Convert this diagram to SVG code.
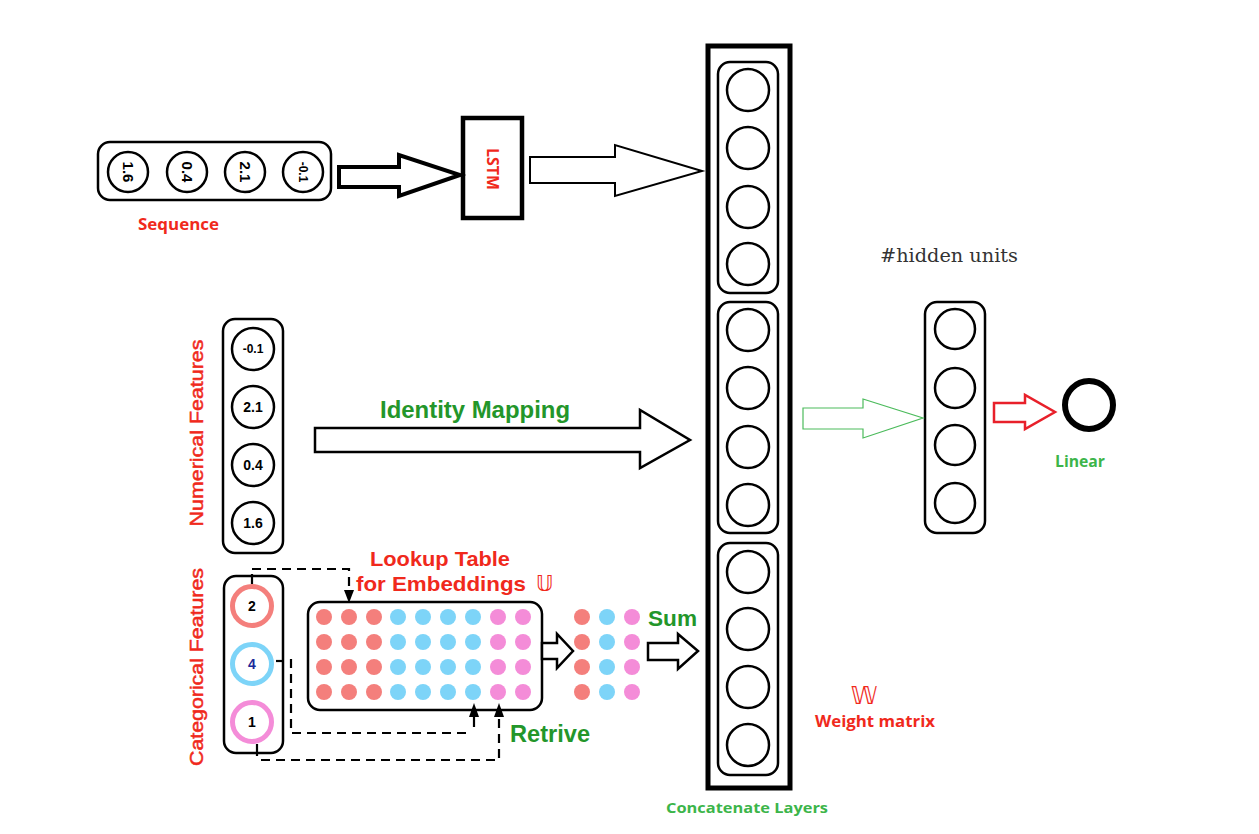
<svg xmlns="http://www.w3.org/2000/svg" width="1259" height="834" viewBox="0 0 1259 834">
<defs>
<style>
.bg{fill:#fff}
.box{fill:#fff;stroke:#000;stroke-width:2.5}
.unit{fill:#fff;stroke:#000;stroke-width:2.5}
.num{font-family:"Liberation Sans",Arial,sans-serif;font-weight:bold;font-size:14px;fill:#000;text-anchor:middle;dominant-baseline:central}
.red{font-family:"Liberation Sans",Arial,sans-serif;font-weight:bold;fill:#f0291c}
.seg{font-family:"Open Sans","Liberation Sans",sans-serif;font-weight:bold}
.grn{font-family:"Liberation Sans",Arial,sans-serif;font-weight:bold;fill:#23962a}
.lgrn{fill:#3cb54a}
.barrow{fill:#fff;stroke:#000;stroke-linejoin:miter}
.dash{fill:none;stroke:#000;stroke-width:2.2;stroke-dasharray:9 6}
.tick{stroke:#000;stroke-width:2.2}
.ds{font-family:"DejaVu Sans","Noto Sans",sans-serif;font-weight:normal;fill:#f0291c}
.s{fill:#f47f7c}.b{fill:#7dd4f8}.p{fill:#f48cd8}
</style>
</defs>
<rect class="bg" x="0" y="0" width="1259" height="834"/>

<g id="sequence">
<rect class="box" x="98" y="142" width="233" height="58" rx="12"/>
<circle class="unit" cx="128" cy="172" r="20"/>
<circle class="unit" cx="187" cy="172" r="20"/>
<circle class="unit" cx="245" cy="172" r="20"/>
<circle class="unit" cx="303" cy="172" r="20"/>
<text class="num" style="font-size:15px" transform="translate(128,172) rotate(90)">1.6</text>
<text class="num" style="font-size:15px" transform="translate(187,172) rotate(90)">0.4</text>
<text class="num" style="font-size:15px" transform="translate(245,172) rotate(90)">2.1</text>
<text class="num" style="font-size:12px" transform="translate(303,172) rotate(90)">-0.1</text>
<text class="seg" fill="#f0291c" x="138" y="230" font-size="15.5" textLength="81" lengthAdjust="spacingAndGlyphs">Sequence</text>
</g>

<g id="lstm">
<rect x="463" y="118" width="59" height="100" fill="#fff" stroke="#000" stroke-width="4.5"/>
<text class="seg" fill="#f0291c" font-size="16" text-anchor="middle" dominant-baseline="central" transform="translate(493,169) rotate(90)" textLength="42" lengthAdjust="spacingAndGlyphs">LSTM</text>
</g>

<g id="numerical">
<rect class="box" x="223" y="319" width="60" height="234" rx="12"/>
<circle class="unit" cx="253" cy="349" r="21"/>
<circle class="unit" cx="253" cy="407" r="21"/>
<circle class="unit" cx="253" cy="465" r="21"/>
<circle class="unit" cx="253" cy="523" r="21"/>
<text class="num" x="253" y="349" style="font-size:12px">-0.1</text>
<text class="num" x="253" y="407">2.1</text>
<text class="num" x="253" y="465">0.4</text>
<text class="num" x="253" y="523">1.6</text>
<text class="red" font-size="18" text-anchor="middle" dominant-baseline="central" transform="translate(197,433) rotate(-90)" textLength="187" lengthAdjust="spacingAndGlyphs" style="font-weight:normal;stroke:#f0291c;stroke-width:0.5">Numerical Features</text>
</g>

<g id="categorical">
<rect class="box" x="224" y="576" width="59" height="177" rx="12"/>
<circle cx="252" cy="606" r="19.5" fill="#fff" stroke="#f47f7c" stroke-width="5"/>
<circle cx="252" cy="664" r="19.5" fill="#fff" stroke="#7dd4f8" stroke-width="5"/>
<circle cx="252" cy="722" r="19.5" fill="#fff" stroke="#f48cd8" stroke-width="5"/>
<text class="num" x="252" y="606">2</text>
<text class="num" x="252" y="664" style="fill:#1a2a9a">4</text>
<text class="num" x="252" y="722">1</text>
<text class="red" font-size="18" text-anchor="middle" dominant-baseline="central" transform="translate(197,667) rotate(-90)" textLength="198" lengthAdjust="spacingAndGlyphs" style="font-weight:normal;stroke:#f0291c;stroke-width:0.5">Categorical Features</text>
</g>

<g id="lookup_table">
<rect class="box" x="308" y="602" width="234" height="108" rx="12"/>
<g>
<circle class="s" cx="324" cy="617" r="8"/><circle class="s" cx="349" cy="617" r="8"/><circle class="s" cx="374" cy="617" r="8"/>
<circle class="b" cx="398" cy="617" r="8"/><circle class="b" cx="423" cy="617" r="8"/><circle class="b" cx="448" cy="617" r="8"/><circle class="b" cx="473" cy="617" r="8"/>
<circle class="p" cx="498" cy="617" r="8"/><circle class="p" cx="523" cy="617" r="8"/>
<circle class="s" cx="324" cy="642" r="8"/><circle class="s" cx="349" cy="642" r="8"/><circle class="s" cx="374" cy="642" r="8"/>
<circle class="b" cx="398" cy="642" r="8"/><circle class="b" cx="423" cy="642" r="8"/><circle class="b" cx="448" cy="642" r="8"/><circle class="b" cx="473" cy="642" r="8"/>
<circle class="p" cx="498" cy="642" r="8"/><circle class="p" cx="523" cy="642" r="8"/>
<circle class="s" cx="324" cy="667" r="8"/><circle class="s" cx="349" cy="667" r="8"/><circle class="s" cx="374" cy="667" r="8"/>
<circle class="b" cx="398" cy="667" r="8"/><circle class="b" cx="423" cy="667" r="8"/><circle class="b" cx="448" cy="667" r="8"/><circle class="b" cx="473" cy="667" r="8"/>
<circle class="p" cx="498" cy="667" r="8"/><circle class="p" cx="523" cy="667" r="8"/>
<circle class="s" cx="324" cy="692" r="8"/><circle class="s" cx="349" cy="692" r="8"/><circle class="s" cx="374" cy="692" r="8"/>
<circle class="b" cx="398" cy="692" r="8"/><circle class="b" cx="423" cy="692" r="8"/><circle class="b" cx="448" cy="692" r="8"/><circle class="b" cx="473" cy="692" r="8"/>
<circle class="p" cx="498" cy="692" r="8"/><circle class="p" cx="523" cy="692" r="8"/>
</g>
<text class="red" x="370" y="566" font-size="21" textLength="140" lengthAdjust="spacingAndGlyphs">Lookup Table</text>
<text class="red" x="356" y="591" font-size="21"><tspan textLength="170" lengthAdjust="spacingAndGlyphs">for Embeddings</tspan><tspan class="ds" x="536" font-size="21">𝕌</tspan></text>
</g>

<g id="summed_embeddings">
<circle class="s" cx="582" cy="617" r="8"/><circle class="b" cx="607" cy="617" r="8"/><circle class="p" cx="632" cy="617" r="8"/>
<circle class="s" cx="582" cy="642" r="8"/><circle class="b" cx="607" cy="642" r="8"/><circle class="p" cx="632" cy="642" r="8"/>
<circle class="s" cx="582" cy="667" r="8"/><circle class="b" cx="607" cy="667" r="8"/><circle class="p" cx="632" cy="667" r="8"/>
<circle class="s" cx="582" cy="692" r="8"/><circle class="b" cx="607" cy="692" r="8"/><circle class="p" cx="632" cy="692" r="8"/>
</g>

<g id="concatenate">
<rect x="708" y="46" width="82" height="742" fill="#fff" stroke="#000" stroke-width="5"/>
<rect class="box" x="718" y="62" width="60" height="231" rx="12"/>
<rect class="box" x="718" y="302" width="60" height="231" rx="12"/>
<rect class="box" x="718" y="543" width="60" height="232" rx="12"/>
<circle class="unit" cx="748" cy="90" r="21"/>
<circle class="unit" cx="748" cy="148" r="21"/>
<circle class="unit" cx="748" cy="207" r="21"/>
<circle class="unit" cx="748" cy="264" r="21"/>
<circle class="unit" cx="748" cy="330" r="21"/>
<circle class="unit" cx="748" cy="388" r="21"/>
<circle class="unit" cx="748" cy="447" r="21"/>
<circle class="unit" cx="748" cy="505" r="21"/>
<circle class="unit" cx="748" cy="572" r="21"/>
<circle class="unit" cx="748" cy="629" r="21"/>
<circle class="unit" cx="748" cy="687" r="21"/>
<circle class="unit" cx="748" cy="745" r="21"/>
<text class="seg lgrn" x="666" y="813" font-size="15" textLength="162" lengthAdjust="spacingAndGlyphs">Concatenate Layers</text>
</g>

<g id="weight_matrix">
<text class="ds" x="864" y="704" font-size="24" text-anchor="middle">𝕎</text>
<text class="seg" fill="#f0291c" x="815" y="727" font-size="15.5" textLength="120" lengthAdjust="spacingAndGlyphs">Weight matrix</text>
</g>

<g id="hidden_layer">
<text x="880" y="262" font-family="'DejaVu Serif','Liberation Serif',serif" font-size="18" fill="#333" textLength="138" lengthAdjust="spacingAndGlyphs">#hidden units</text>
<rect class="box" x="925" y="302" width="60" height="231" rx="12"/>
<circle class="unit" cx="955" cy="329" r="20"/>
<circle class="unit" cx="955" cy="388" r="20"/>
<circle class="unit" cx="955" cy="445" r="20"/>
<circle class="unit" cx="955" cy="503" r="20"/>
</g>

<g id="output">
<circle cx="1089" cy="405" r="24" fill="#fff" stroke="#000" stroke-width="6"/>
<text class="seg lgrn" x="1055" y="467" font-size="15.5" textLength="50" lengthAdjust="spacingAndGlyphs">Linear</text>
</g>

<g id="connectors">
<polygon class="barrow" stroke-width="4" points="339,167 399,167 399,155 460,175 399,196 399,187 339,187"/>
<polygon class="barrow" stroke-width="2" points="530,157 615,157 615,145 702,171 615,196 615,183 530,183"/>
<polygon class="barrow" stroke-width="2.5" points="315,428 640,428 640,410 690,440 640,468 640,452 315,452"/>
<text class="grn" x="380" y="418" font-size="23" textLength="190" lengthAdjust="spacingAndGlyphs">Identity Mapping</text>
<polygon class="barrow" stroke-width="2.5" points="542,643 557,643 557,634 573,651 557,668 557,659 542,659"/>
<polygon class="barrow" stroke-width="2.5" points="648,643 678,643 678,634 698,651 678,669 678,660 648,660"/>
<text class="grn" x="648" y="626" font-size="22.5" textLength="49" lengthAdjust="spacingAndGlyphs">Sum</text>
<polygon fill="#fff" stroke="#4cbb5c" stroke-width="1.2" points="803,408 863,408 863,399 923,418 863,438 863,429 803,429"/>
<polygon fill="#fff" stroke="#e8202a" stroke-width="2.5" points="994,403 1025,403 1025,395 1055,412 1025,429 1025,422 994,422"/>
<line class="tick" x1="252" y1="574" x2="252" y2="584"/>
<path class="dash" d="M252,569 H349 V596"/>
<polygon points="344,590 354,590 349,603" fill="#000"/>
<line class="tick" x1="276" y1="661" x2="284" y2="661"/>
<path class="dash" d="M291,659 V733 H470"/>
<line class="tick" x1="474" y1="727" x2="474" y2="712"/>
<polygon points="469,717 479,717 474,703" fill="#000"/>
<line class="tick" x1="257" y1="744" x2="257" y2="756"/>
<path class="dash" d="M261,760 H499 V712"/>
<polygon points="494,717 504,717 499,703" fill="#000"/>
<text class="grn" x="510" y="742" font-size="23" textLength="80" lengthAdjust="spacingAndGlyphs">Retrive</text>
</g>
</svg>
